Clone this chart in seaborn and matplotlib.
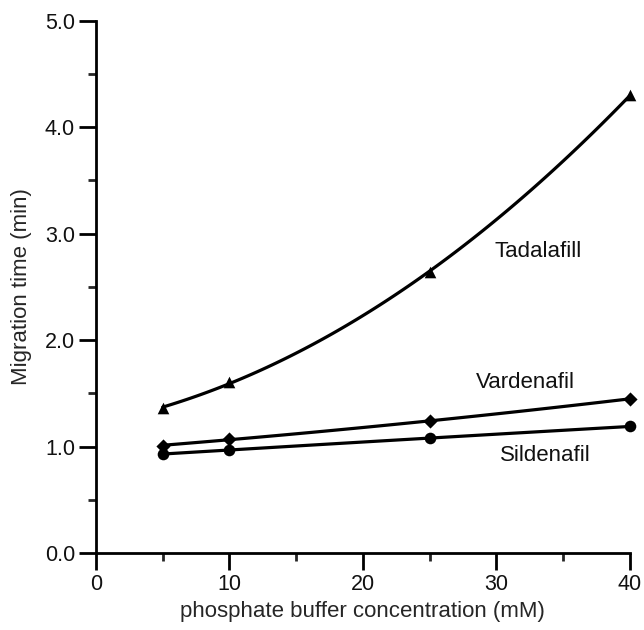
import numpy as np
import pandas as pd
import matplotlib
matplotlib.use("Agg")
import matplotlib.pyplot as plt
import seaborn as sns
from matplotlib.ticker import MultipleLocator

# buffer concentrations (mM) and migration times (min)
conc = [5, 10, 25, 40]
tadalafil = [1.36, 1.61, 2.64, 4.30]
vardenafil = [1.01, 1.07, 1.24, 1.45]
sildenafil = [0.93, 0.97, 1.08, 1.19]

series_names = ["Tadalafill", "Vardenafil", "Sildenafil"]
series_markers = ["^", "D", "o"]
label_x = [33.1, 32.2, 33.7]
label_y = [2.83, 1.60, 0.92]

df = pd.DataFrame({
    "conc": conc * 3,
    "time": tadalafil + vardenafil + sildenafil,
    "drug": np.repeat(series_names, len(conc)),
})

sns.set_theme(style="ticks")
plt.rcParams["font.family"] = ["Liberation Sans", "DejaVu Sans"]

fig = plt.figure(figsize=(6.44, 6.30), dpi=100)
ax = fig.add_axes([0.149, 0.122, 0.829, 0.845])

# smooth fitted curve through each drug's points, markers on the measured values
for name, mk in zip(series_names, series_markers):
    sub = df[df.drug == name]
    ms = 52 if mk == "D" else 70
    sns.regplot(data=sub, x="conc", y="time", order=2, ci=None, ax=ax,
                color="black", marker=mk,
                scatter_kws={"s": ms, "alpha": 1, "linewidths": 0, "zorder": 3, "clip_on": False},
                line_kws={"lw": 2.3, "clip_on": False})

for name, lx, ly in zip(series_names, label_x, label_y):
    ax.text(lx, ly, name, ha="center", va="center", fontsize=16, color="#111111")

ax.set_xlim(0, 40)
ax.set_ylim(0, 5)
ax.xaxis.set_major_locator(MultipleLocator(10))
ax.xaxis.set_minor_locator(MultipleLocator(5))
ax.yaxis.set_major_locator(MultipleLocator(1))
ax.yaxis.set_minor_locator(MultipleLocator(0.5))
ax.yaxis.set_major_formatter(matplotlib.ticker.FormatStrFormatter("%.1f"))

ax.tick_params(which="major", length=12, width=2, labelsize=15.5, colors="black",
               direction="out", pad=3)
ax.tick_params(which="minor", length=6, width=2, direction="out")
for s in ["left", "bottom"]:
    ax.spines[s].set_linewidth(2)
    ax.spines[s].set_color("black")
sns.despine(ax=ax)
for lab in ax.get_xticklabels() + ax.get_yticklabels():
    lab.set_color("#111111")

ax.set_xlabel("phosphate buffer concentration (mM)", fontsize=16, labelpad=4)
ax.set_ylabel("Migration time (min)", fontsize=16, labelpad=9)

fig.savefig("out.png", dpi=100)
